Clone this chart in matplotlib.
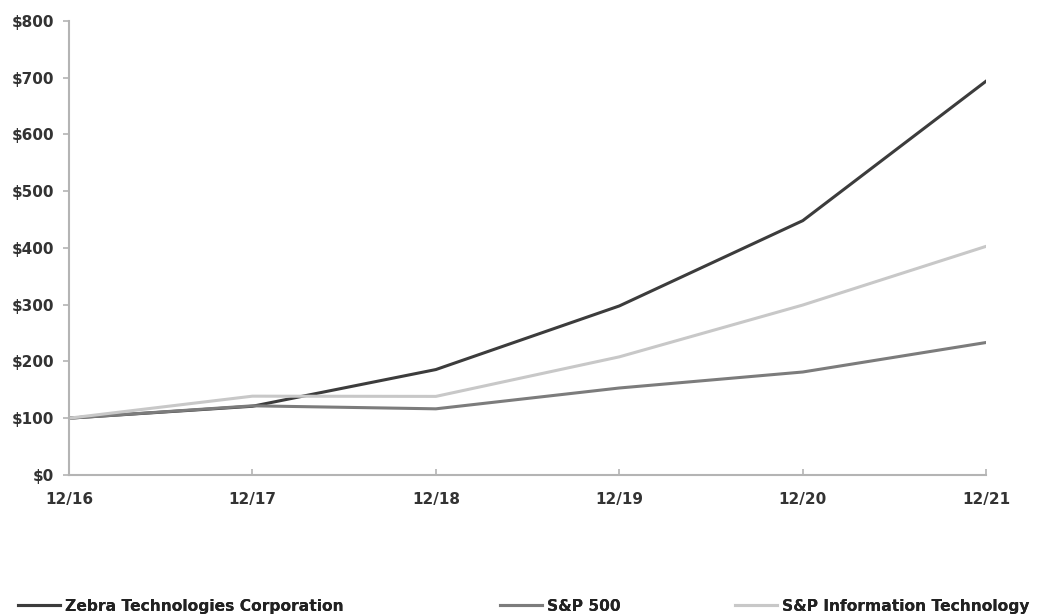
import matplotlib
matplotlib.use("Agg")
import matplotlib.pyplot as plt
from matplotlib.ticker import FuncFormatter

plt.rcParams["font.family"] = ["DejaVu Sans"]

# ---------------------------------
# Data
# ---------------------------------

years = ["12/16", "12/17", "12/18", "12/19", "12/20", "12/21"]
zebra = [100, 121.0, 185.7, 297.8, 448.1, 694.1]
sp500 = [100, 121.8, 116.5, 153.2, 181.4, 233.4]
sp_it = [100, 138.8, 138.4, 208.1, 299.4, 402.9]

series_names = [
    "Zebra Technologies Corporation",
    "S&P 500",
    "S&P Information Technology",
]
series_colors = ["#3c3c3c", "#7c7c7c", "#c8c8c8"]

# ---------------------------------
# Plot
# ---------------------------------

fig = plt.figure(figsize=(10.4, 6.16), dpi=100)
ax = fig.add_axes([0.0663, 0.229, 0.882, 0.737])

x = list(range(len(years)))

handles = []
for vals, name, col in zip([zebra, sp500, sp_it], series_names, series_colors):
    h, = ax.plot(x, vals, color=col, linewidth=2.2, label=name)
    handles.append(h)

ax.set_xlim(0, len(years) - 1)
ax.set_ylim(0, 800)
ax.set_yticks(range(0, 801, 100))
ax.yaxis.set_major_formatter(FuncFormatter(lambda v, p: f"${int(v)}"))
ax.set_xticks(x)
ax.set_xticklabels(years)

for side in ["top", "right"]:
    ax.spines[side].set_visible(False)
for side in ["left", "bottom"]:
    ax.spines[side].set_color("#b4b4b4")
    ax.spines[side].set_linewidth(1.5)

ax.tick_params(axis="y", direction="out", length=4.5, width=1.2,
               color="#b4b4b4", pad=6)
ax.tick_params(axis="x", direction="in", length=4, width=1.2,
               color="#b4b4b4", pad=12)
for lab in ax.get_xticklabels() + ax.get_yticklabels():
    lab.set_fontsize(11)
    lab.set_fontweight("bold")
    lab.set_color("#333333")

# ---------------------------------
# Legend (one entry per block)
# ---------------------------------

legend_x = [18 / 1040, 500 / 1040, 735 / 1040]
for h, lx in zip(handles, legend_x):
    leg = fig.legend(
        handles=[h],
        loc="center left",
        bbox_to_anchor=(lx, 0.016),
        frameon=False,
        borderpad=0,
        borderaxespad=0,
        handlelength=2.7,
        handletextpad=0.3,
        prop={"size": 11.2, "weight": "bold"},
    )
    for t in leg.get_texts():
        t.set_color("#222222")
    fig.add_artist(leg)

fig.savefig("out.png", dpi=100)
